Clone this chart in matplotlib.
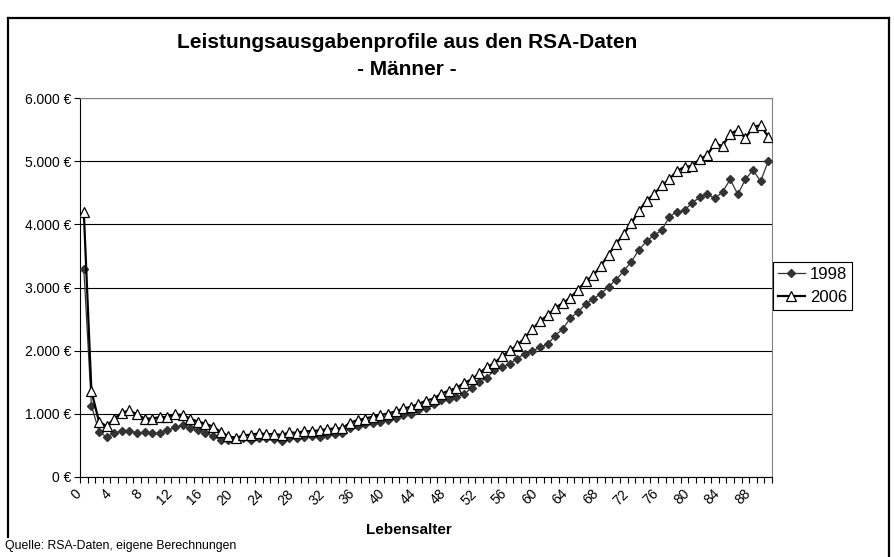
import matplotlib
matplotlib.use("Agg")
import matplotlib.pyplot as plt
from matplotlib.lines import Line2D
from matplotlib.ticker import FuncFormatter, FixedLocator
import numpy as np

# Lebensalter 0..90
ages = np.arange(0, 91)

kosten_1998 = [3300, 1130, 720, 630, 700, 730, 730, 700, 705, 690,
               690, 740, 785, 820, 770, 740, 700, 650, 590, 585,
               595, 610, 590, 610, 610, 600, 570, 610, 610, 635,
               645, 640, 660, 680, 690, 770, 805, 835, 858, 875,
               900, 935, 980, 1005, 1055, 1095, 1160, 1215, 1235, 1270,
               1310, 1410, 1505, 1570, 1690, 1740, 1795, 1875, 1955, 1990,
               2060, 2100, 2240, 2345, 2520, 2610, 2740, 2820, 2900, 3010,
               3125, 3260, 3410, 3595, 3730, 3830, 3905, 4120, 4200, 4220,
               4345, 4425, 4475, 4410, 4515, 4710, 4475, 4710, 4860, 4680,
               5000]

kosten_2006 = [4200, 1360, 875, 805, 925, 1015, 1055, 990, 925, 925,
               950, 950, 995, 980, 925, 875, 845, 795, 715, 645,
               620, 660, 670, 690, 680, 680, 665, 705, 700, 725,
               725, 740, 755, 770, 770, 860, 900, 925, 955, 980,
               1005, 1040, 1085, 1110, 1155, 1210, 1240, 1320, 1365, 1410,
               1490, 1545, 1640, 1740, 1805, 1910, 2005, 2085, 2205, 2345,
               2470, 2560, 2680, 2755, 2840, 2965, 3100, 3190, 3345, 3520,
               3690, 3850, 4015, 4215, 4375, 4480, 4615, 4715, 4845, 4910,
               4925, 5030, 5100, 5280, 5240, 5435, 5490, 5365, 5540, 5570,
               5385]

x_labels = list(range(0, 89, 4))
y_ticks = [0, 1000, 2000, 3000, 4000, 5000, 6000]

plt.rcParams['font.family'] = ['Liberation Sans', 'DejaVu Sans']

fig = plt.figure(figsize=(8.94, 5.57), dpi=100)
ax = fig.add_axes([80 / 894, 1 - 477 / 557, 692 / 894, 379 / 557])

ax.plot(ages, kosten_1998, color="#333333", linewidth=0.9, marker="D",
        markersize=3.6, markerfacecolor="#333333", markeredgecolor="#333333",
        label="1998", zorder=3)
ax.plot(ages, kosten_2006, color="black", linewidth=1.6, marker="^",
        markersize=6.5, markerfacecolor="white", markeredgecolor="black",
        markeredgewidth=0.9, label="2006", zorder=4)

ax.set_xlim(-0.5, 90.5)
ax.set_ylim(0, 6000)
ax.set_yticks(y_ticks)
ax.yaxis.set_major_formatter(FuncFormatter(lambda v, p: f"{int(v):,}".replace(",", ".") + " €"))
ax.set_xticks(x_labels)
ax.set_xticklabels([str(v) for v in x_labels], rotation=45, ha="right", va="top")
ax.xaxis.set_minor_locator(FixedLocator(np.arange(-0.5, 91, 1)))
ax.tick_params(axis="x", which="major", length=0, labelsize=10, pad=7)
ax.tick_params(axis="x", which="minor", length=4, direction="out", width=0.8)
ax.tick_params(axis="y", length=4, direction="out", width=0.8, labelsize=10, pad=2)

ax.grid(axis="y", color="black", linewidth=0.8)
ax.set_axisbelow(True)
ax.spines['top'].set_color('#808080')
ax.spines['right'].set_color('#808080')
ax.spines['left'].set_color('black')
ax.spines['bottom'].set_color('black')

leg = ax.legend(loc="upper left", bbox_to_anchor=(773 / 894, 1 - 262 / 557),
                bbox_transform=fig.transFigure, borderaxespad=0, fancybox=False,
                edgecolor="black", framealpha=1, fontsize=12, handlelength=1.6,
                handletextpad=0.3, labelspacing=0.5, borderpad=0.3)
leg.get_frame().set_linewidth(0.8)

fig.text(407 / 894, 1 - 56 / 557, "Leistungsausgabenprofile aus den RSA-Daten\n- Männer -",
         ha="center", va="center", fontsize=15, fontweight="bold", linespacing=1.5)
fig.text(409 / 894, 1 - 530 / 557, "Lebensalter", ha="center", va="center",
         fontsize=11, fontweight="bold")
fig.text(5 / 894, 1 - 546 / 557, "Quelle: RSA-Daten, eigene Berechnungen", ha="left",
         va="center", fontsize=8.8)

# Rahmen des Diagramms
for xs, ys in [([8, 8], [18, 537]), ([8, 889], [18, 18]), ([889, 889], [18, 557])]:
    fig.add_artist(Line2D([x / 894 for x in xs], [1 - y / 557 for y in ys],
                          transform=fig.transFigure, color="black", linewidth=1.6))

fig.savefig("out.png", dpi=100)
